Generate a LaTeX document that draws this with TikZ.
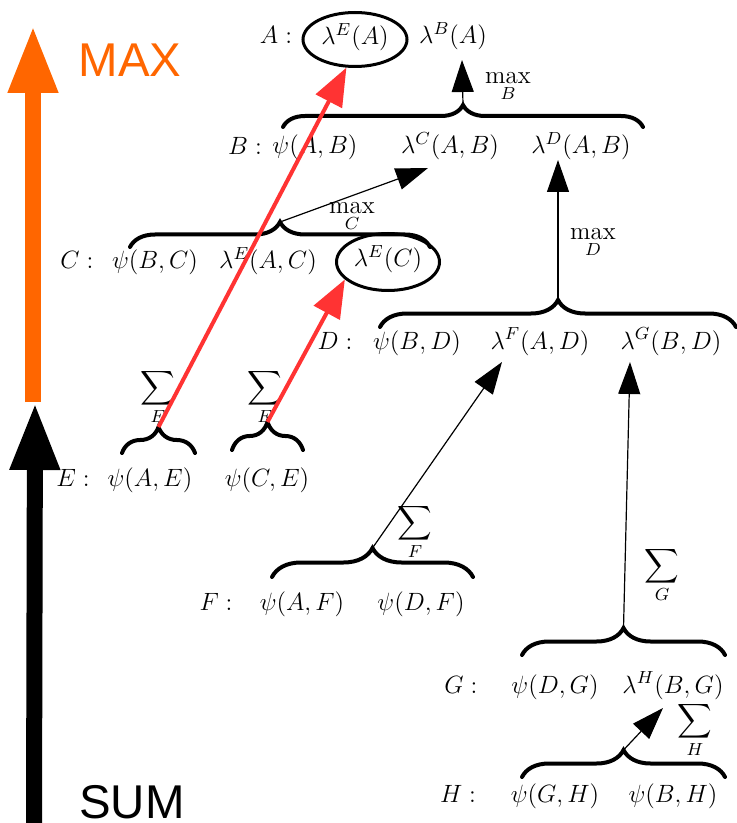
\RequirePackage{fix-cm}
\documentclass[tikz,border=0pt]{standalone}
\usepackage{exscale}
\usepackage{fontspec}
\newfontfamily\labelsans{Liberation Sans}
\usetikzlibrary{arrows.meta,shapes.geometric,decorations.pathreplacing}
\definecolor{maxorange}{RGB}{255,102,0}
\definecolor{msgred}{RGB}{255,51,51}
\begin{document}
\begin{tikzpicture}[x=0.5pt,y=-0.5pt,
  txt/.style={inner sep=0pt, font=\fontsize{12.5}{15}\selectfont,
              text height=0.75em, text depth=0.25em},
  op/.style={inner sep=0pt, font=\fontsize{12.5}{15}\selectfont},
  circled/.style={txt, ellipse, draw, line width=1.5pt},
  brc/.style={decorate, decoration={brace, amplitude=#1}, line width=2pt, line cap=round},
  msg/.style={-{Triangle[length=16pt,width=11pt]}, line width=0.6pt},
  redmsg/.style={-{Triangle[length=19pt,width=14.5pt]}, line width=2pt, draw=msgred, fill=msgred},
  bigarrow/.style={line width=8pt, -{Triangle[length=34pt,width=23pt]}},
  bigword/.style={inner sep=0pt, font=\labelsans\fontsize{23.7}{28}\selectfont}]
\useasboundingbox (0,0) rectangle (736,823);

% direction arrows on the left
\draw[bigarrow, draw=maxorange, fill=maxorange] (33,402) -- (33,25);
\draw[bigarrow, draw=black, fill=black] (34,823) -- (35,402);
\node[bigword, text=maxorange] (maxw) at (130,60) {MAX};
\node[bigword] (sumw) at (132,802) {SUM};

% row A
\node[txt] (labA) at (276,39) {$A:$};
\node[circled, minimum width=52pt, minimum height=27pt] (lEA) at (355,39.5) {$\lambda^E(A)$};
\node[txt] (lBA) at (453,39) {$\lambda^B(A)$};

% row B
\node[txt] (labB) at (245,150) {$B:$};
\node[txt] (pAB) at (315,149) {$\psi(A,B)$};
\node[txt] (lCAB) at (450,149) {$\lambda^C(A,B)$};
\node[txt] (lDAB) at (581,149) {$\lambda^D(A,B)$};

% row C
\node[txt] (labC) at (77,264) {$C:$};
\node[txt] (pBC) at (155,264) {$\psi(B,C)$};
\node[txt] (lEAC) at (268,264) {$\lambda^E(A,C)$};
\node[circled, minimum width=51.5pt, minimum height=28.5pt] (lEC) at (388,262) {$\lambda^E(C)$};

% row D
\node[txt] (labD) at (335,344) {$D:$};
\node[txt] (pBD) at (417,344) {$\psi(B,D)$};
\node[txt] (lFAD) at (540,344) {$\lambda^F(A,D)$};
\node[txt] (lGBD) at (671,344) {$\lambda^G(B,D)$};

% row E
\node[txt] (labE) at (73,481) {$E:$};
\node[txt] (pAE) at (150,481) {$\psi(A,E)$};
\node[txt] (pCE) at (267,481) {$\psi(C,E)$};

% row F
\node[txt] (labF) at (216,605) {$F:$};
\node[txt] (pAF) at (302,605) {$\psi(A,F)$};
\node[txt] (pDF) at (421,605) {$\psi(D,F)$};

% row G
\node[txt] (labG) at (461,688) {$G:$};
\node[txt] (pDG) at (555,688) {$\psi(D,G)$};
\node[txt] (lHBG) at (673,688) {$\lambda^H(B,G)$};

% row H
\node[txt] (labH) at (458,797) {$H:$};
\node[txt] (pGH) at (555,797) {$\psi(G,H)$};
\node[txt] (pBH) at (673,797) {$\psi(B,H)$};

% braces grouping the factors of each variable
\draw[brc=11pt]   (283,127) -- (643,127);
\draw[brc=12.5pt] (130,247) -- (430,247);
\draw[brc=13.5pt] (380,327) -- (736,327);
\draw[brc=13pt]   (122,453) -- (195,453);
\draw[brc=14pt]   (232,450) -- (303,450);
\draw[brc=14.5pt] (272,577) -- (473,577);
\draw[brc=13.5pt] (522,655) -- (725,655);
\draw[brc=13.5pt] (522,777) -- (725,777);

% brace tips
\coordinate (tB) at (463,105);
\coordinate (tC) at (280,222);
\coordinate (tD) at (558,300);
\coordinate (tE1) at (158.5,427);
\coordinate (tE2) at (267.5,422);
\coordinate (tF) at (372.5,548);
\coordinate (tG) at (623.5,628);
\coordinate (tH) at (623.5,750);

% message heads
\coordinate (hB) at (462,60);
\coordinate (hC) at (428,168);
\coordinate (hD) at (558,160);
\coordinate (hF) at (502,362);
\coordinate (hG) at (630,362);
\coordinate (hH) at (663,708);

% elimination operators
\node[op] (mB) at (508,87) {$\displaystyle\max_B$};
\node[op] (mC) at (352,217) {$\displaystyle\max_C$};
\node[op] (mD) at (593,243) {$\displaystyle\max_D$};
\node[op] (sE1) at (158,397) {$\displaystyle\sum_E$};
\node[op] (sE2) at (265,397) {$\displaystyle\sum_E$};
\node[op] (sF) at (415,532) {$\displaystyle\sum_F$};
\node[op] (sG) at (662,575) {$\displaystyle\sum_G$};
\node[op] (sH) at (695,730) {$\displaystyle\sum_H$};

% messages
\draw[msg] (tB) -- (hB);
\draw[msg] (tC) -- (hC);
\draw[msg] (tD) -- (hD);
\draw[msg] (tF) -- (hF);
\draw[msg] (tG) -- (hG);
\draw[msg] (tH) -- (hH);

% messages to the circled terms
\draw[redmsg] (tE1) -- (lEA.-107);
\draw[redmsg] (tE2) -- (lEC.-158);
\end{tikzpicture}
\end{document}
